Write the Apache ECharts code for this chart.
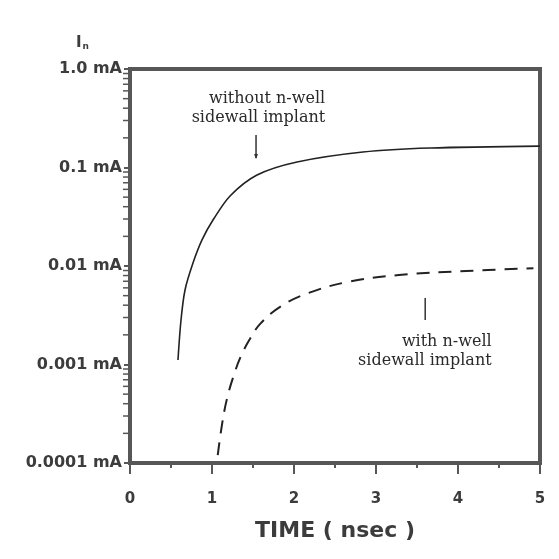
<!DOCTYPE html>
<html>
<head>
<meta charset="utf-8">
<script src="https://cdn.jsdelivr.net/npm/echarts@6/dist/echarts.min.js"></script>
<style>html,body{margin:0;padding:0;background:#fff}#c{width:559px;height:559px}</style>
</head>
<body>
<div id="c"></div>
<script>
// Data (TIME in nsec, current in mA)
const withoutX = [0.585, 0.622, 0.671, 0.768, 0.878, 1.012, 1.22, 1.549, 2.037, 2.841, 3.659, 5.00];
const withoutY = [0.00111, 0.00283, 0.00571, 0.0107, 0.0184, 0.0293, 0.0514, 0.0839, 0.1138, 0.1437, 0.1578, 0.165];
const withX = [1.07, 1.12, 1.18, 1.26, 1.35, 1.46, 1.59, 1.84, 2.17, 2.66, 3.28, 4.10, 4.92];
const withY = [0.00012, 0.00024, 0.00044, 0.00075, 0.0012, 0.0018, 0.0026, 0.0039, 0.0053, 0.0069, 0.0081, 0.0089, 0.0095];
const yTickLabels = {"1": "1.0 mA", "0.1": "0.1 mA", "0.01": "0.01 mA", "0.001": "0.001 mA", "0.0001": "0.0001 mA"};
const yMinorTicks = [];
[0.0001, 0.001, 0.01, 0.1].forEach(d => { for (let k = 2; k <= 9; k++) yMinorTicks.push(+(d * k).toPrecision(3)); });
const xTickLabels = ["0", "1", "2", "3", "4", "5"];
// annotations (data coords): text anchor = top-right of the block
const annoWithout = {lines: ["without n-well", "sidewall implant"], x: 2.38, y: 0.62, arrowX: 1.537, arrowTop: 0.214, arrowBottom: 0.125};
const annoWith = {lines: ["with n-well", "sidewall implant"], x: 4.41, y: 0.00214, arrowX: 3.6, arrowTop: 0.00473, arrowBottom: 0.00283};

const chart = echarts.init(document.getElementById('c'));
const axisCol = '#575757';
const txtCol = '#3c3c3c';
const zip = (a, b) => a.map((v, i) => [v, b[i]]);

chart.setOption({
  animation: false,
  grid: {left: 130, right: 19, top: 69, bottom: 96, show: true, borderColor: axisCol, borderWidth: 4, backgroundColor: 'transparent'},
  xAxis: {
    type: 'value', min: 0, max: 5, interval: 1,
    name: 'TIME ( nsec )', nameLocation: 'middle', nameGap: 57,
    nameTextStyle: {fontFamily: 'DejaVu Sans', fontWeight: 'bold', fontSize: 22, color: txtCol},
    axisLine: {show: true, lineStyle: {color: axisCol, width: 4}},
    axisTick: {show: true, length: 11, lineStyle: {color: axisCol, width: 2}},
    minorTick: {show: true, splitNumber: 2, length: 5, lineStyle: {color: axisCol, width: 2}},
    splitLine: {show: false},
    axisLabel: {margin: 29, fontFamily: 'DejaVu Sans', fontWeight: 'bold', fontSize: 15, color: txtCol,
      formatter: v => xTickLabels[Math.round(v)] }
  },
  yAxis: {
    type: 'log', logBase: 10, min: 0.0001, max: 1,
    axisLine: {show: true, lineStyle: {color: axisCol, width: 4}},
    axisTick: {show: true, length: 6, lineStyle: {color: axisCol, width: 2}},
    splitLine: {show: false},
    axisLabel: {margin: 8, fontFamily: 'DejaVu Sans', fontWeight: 'bold', fontSize: 16, color: txtCol,
      formatter: v => yTickLabels[String(+v.toPrecision(3))] || '' }
  },
  series: [
    {type: 'line', data: zip(withoutX, withoutY), smooth: 0.3, symbol: 'none',
     lineStyle: {color: '#222', width: 1.6}},
    {type: 'line', data: zip(withX, withY), smooth: 0.4, symbol: 'none',
     lineStyle: {color: '#222', width: 2, type: [13, 9]}},
    {type: 'custom', clip: false, silent: true,
     data: yMinorTicks.map(v => [0, v]),
     renderItem: (params, api) => {
       const p = api.coord([0, api.value(1)]);
       return {type: 'line', shape: {x1: p[0] - 2, y1: p[1], x2: p[0] - 7, y2: p[1]},
               style: {stroke: axisCol, lineWidth: 1.5}};
     }}
  ]
});

function pix(x, y) { return chart.convertToPixel({gridIndex: 0}, [x, y]); }
function anno(a) {
  const els = [];
  const p = pix(a.x, a.y);
  els.push({type: 'text', x: p[0], y: p[1],
    style: {text: a.lines.join('\n'), fontFamily: 'DejaVu Serif', fontSize: 16, lineHeight: 19,
      fill: '#2a2a2a', align: 'right', verticalAlign: 'top'}});
  const t = pix(a.arrowX, a.arrowTop), b = pix(a.arrowX, a.arrowBottom);
  els.push({type: 'line', shape: {x1: t[0], y1: t[1], x2: b[0], y2: b[1]}, style: {stroke: '#333', lineWidth: 1.5}});
  return els;
}
const aw = anno(annoWithout);
const ab = pix(annoWithout.arrowX, annoWithout.arrowBottom);
aw.push({type: 'polygon', shape: {points: [[ab[0] - 2, ab[1] - 4], [ab[0] + 2, ab[1] - 4], [ab[0], ab[1] + 1]]}, style: {fill: '#333'}});
const graphics = aw.concat(anno(annoWith));
graphics.push({type: 'text', x: 76, y: 36,
  style: {text: '{a|I}{b|n}', rich: {a: {fontFamily: 'DejaVu Sans', fontWeight: 'bold', fontSize: 15, fill: txtCol, verticalAlign: 'bottom'},
    b: {fontFamily: 'DejaVu Sans', fontWeight: 'bold', fontSize: 9, fill: txtCol, padding: [6, 0, 0, 1]}}}});
chart.setOption({graphic: graphics});
</script>
</body>
</html>
